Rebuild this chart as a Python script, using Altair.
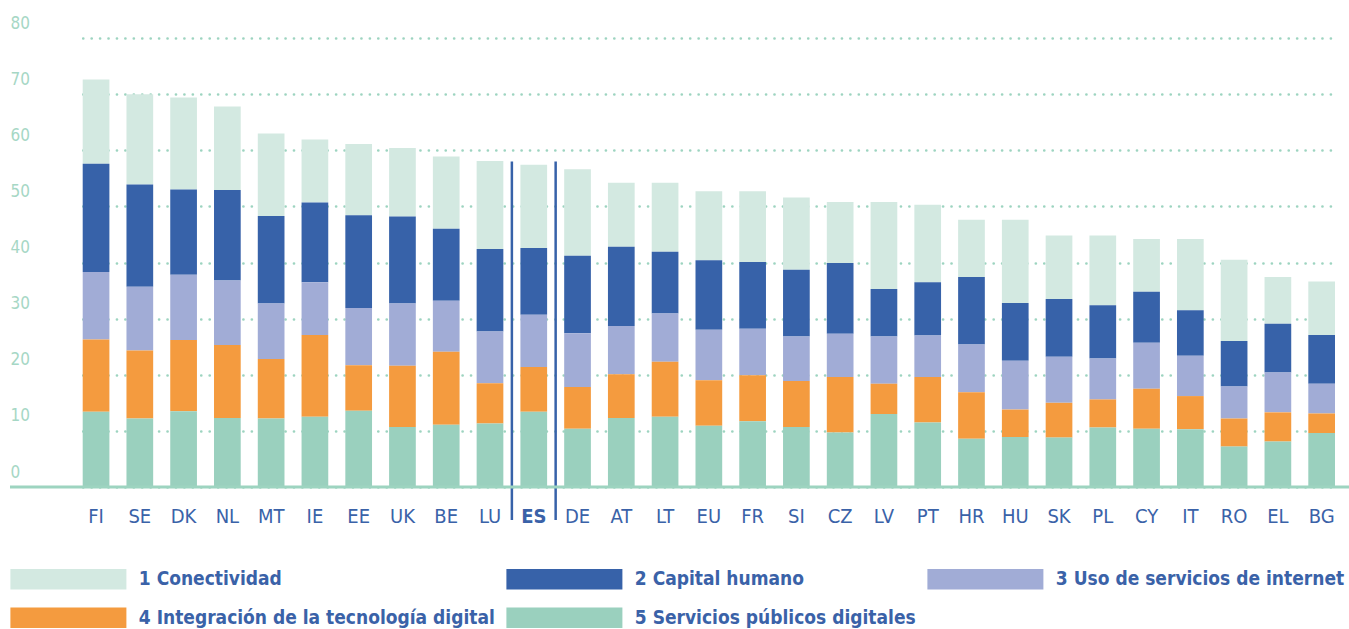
import altair as alt
import pandas as pd

countries = ["FI", "SE", "DK", "NL", "MT", "IE", "EE", "UK", "BE", "LU", "ES", "DE", "AT", "LT", "EU",
             "FR", "SI", "CZ", "LV", "PT", "HR", "HU", "SK", "PL", "CY", "IT", "RO", "EL", "BG"]

components = ["1 Conectividad", "2 Capital humano", "3 Uso de servicios de internet",
              "4 Integración de la tecnología digital", "5 Servicios públicos digitales"]

conectividad = [15.0, 16.1, 16.4, 14.9, 14.7, 11.2, 12.7, 12.2, 12.9, 15.7, 14.8, 15.4, 11.4, 12.3, 12.3,
                12.6, 12.9, 10.9, 15.5, 13.8, 10.2, 14.8, 11.3, 12.4, 9.4, 12.7, 14.5, 8.3, 9.5]
capital_humano = [19.3, 18.2, 15.2, 16.1, 15.6, 14.2, 16.5, 15.5, 12.8, 14.7, 11.9, 13.8, 14.1, 11.0, 12.4,
                  11.9, 11.9, 12.6, 8.5, 9.5, 12.0, 10.3, 10.3, 9.5, 9.1, 8.1, 8.1, 8.7, 8.7]
uso_internet = [12.0, 11.4, 11.6, 11.5, 9.9, 9.4, 10.2, 11.1, 9.1, 9.2, 9.3, 9.6, 8.6, 8.6, 9.0,
                8.3, 7.9, 7.7, 8.4, 7.4, 8.5, 8.7, 8.2, 7.3, 8.2, 7.2, 5.7, 7.1, 5.3]
integracion = [12.9, 12.1, 12.7, 13.0, 10.6, 14.6, 8.1, 10.9, 13.0, 7.2, 8.0, 7.4, 7.8, 9.8, 8.1,
               8.2, 8.2, 9.9, 5.4, 8.1, 8.3, 4.9, 6.2, 5.0, 7.1, 5.9, 5.0, 5.2, 3.5]
servicios_publicos = [13.4, 12.2, 13.5, 12.3, 12.2, 12.5, 13.6, 10.7, 11.1, 11.3, 13.4, 10.4, 12.3, 12.5, 10.9,
                      11.7, 10.7, 9.7, 13.0, 11.5, 8.6, 8.9, 8.8, 10.6, 10.4, 10.3, 7.2, 8.1, 9.6]

highlight = ["ES"]
highlight_top = [58]

colors = ["#d3e9e1", "#3762a9", "#a1acd6", "#f49b3f", "#9ad0be"]
series = [conectividad, capital_humano, uso_internet, integracion, servicios_publicos]

rows = []
for i, c in enumerate(countries):
    for k, (comp, vals) in enumerate(zip(components, series)):
        rows.append({"country": c, "component": comp, "value": vals[i], "stack": 4 - k})
df = pd.DataFrame(rows)
sep_df = pd.DataFrame({"country": highlight, "top": highlight_top})
base_df = pd.DataFrame({"y": [0]})

FONT = "Liberation Sans Narrow, DejaVu Sans Condensed, Roboto, sans-serif"
BLUE = "#3a62a8"
GREEN = "#9dd4c0"

W, H = 1339, 449
PAD_IN = 0.39
STEP = (1325 - 72.7) / (len(countries) - PAD_IN)
GAP = STEP * PAD_IN / 2

# legend swatch: 116 x 20.4 px drawn from a small layout symbol (23.2 px)
SYM = 23.2
SW, SH = 116, 20.4
OVER = SW / 2 - SYM / 2  # overhang left of the entry origin

xscale = alt.Scale(domain=countries, range=[72.7, 1325], paddingInner=PAD_IN, paddingOuter=0)

bars = alt.Chart(df).mark_bar().encode(
    x=alt.X("country:N", sort=countries, scale=xscale,
            axis=alt.Axis(title=None, domain=False, ticks=False, labelAngle=0, labelPadding=19,
                          labelFontSize=20, labelColor=BLUE, labelFont=FONT,
                          labelFontWeight={"condition": {"test": "datum.value == 'ES'", "value": "bold"},
                                           "value": "normal"})),
    y=alt.Y("value:Q", stack="zero", scale=alt.Scale(domain=[0, 80], nice=False),
            axis=alt.Axis(title=None, values=list(range(0, 90, 10)), domain=False, ticks=False,
                          labelAlign="left", labelPadding=0, labelBaseline="alphabetic", labelOffset=-10,
                          labelFontSize=17, labelColor="#a6d7c5", labelFont=FONT,
                          grid=True, gridDash=[0.1, 8.33], gridCap="round", gridWidth=2.6, gridColor=GREEN)),
    color=alt.Color("component:N", scale=alt.Scale(domain=components, range=colors),
                    legend=alt.Legend(title=None, orient="none", legendX=OVER, legendY=540.5 - SYM / 2,
                                      columns=3, direction="horizontal",
                                      columnPadding=11, rowPadding=39 - SYM, gridAlign="each",
                                      symbolType=f"M{-SW / SYM:.4f},{-SH / SYM:.4f}H{SW / SYM:.4f}V{SH / SYM:.4f}H{-SW / SYM:.4f}Z",
                                      symbolSize=SYM * SYM,
                                      symbolStrokeWidth=0, symbolOpacity=1, labelOffset=12 + OVER,
                                      labelFontSize=19, labelFontWeight="bold", labelFont=FONT,
                                      labelColor=BLUE, labelLimit=700, padding=0)),
    order=alt.Order("stack:Q", sort="ascending"),
)

sep_left = alt.Chart(sep_df).mark_rule(color="#3762a9", strokeWidth=2.5).encode(
    x=alt.X("country:N", sort=countries, scale=xscale),
    y=alt.Y("top:Q"),
    y2=alt.value(H + 33),
    xOffset=alt.value(-GAP),
)
sep_right = alt.Chart(sep_df).mark_rule(color="#3762a9", strokeWidth=2.5).encode(
    x=alt.X("country:N", sort=countries, scale=xscale),
    y=alt.Y("top:Q"),
    y2=alt.value(H + 33),
    xOffset=alt.value(STEP - GAP),
)
baseline = alt.Chart(base_df).mark_rule(color=GREEN, strokeWidth=3).encode(y=alt.Y("y:Q"))

chart = alt.layer(bars, sep_left, sep_right, baseline).properties(
    width=W, height=H,
    autosize=alt.AutoSizeParams(type="none"),
    padding={"left": 10, "top": 38, "right": 0, "bottom": 142},
).configure_view(stroke=None)

chart.save("out.html", embed_options={"renderer": "svg", "actions": False})
